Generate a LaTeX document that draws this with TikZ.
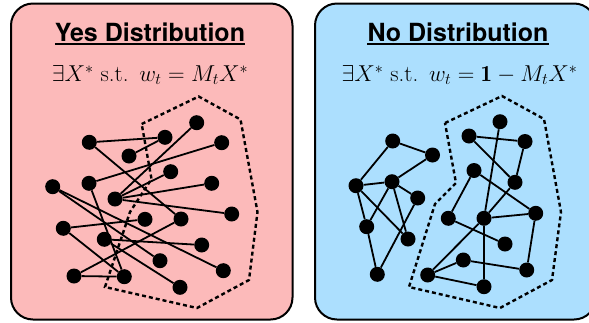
\RequirePackage{fix-cm}
\documentclass[tikz,border=0pt]{standalone}
\usepackage{fontspec}
\newfontfamily\titlefont{TeX Gyre Heros}
\definecolor{pinkc}{RGB}{252,186,186}
\definecolor{bluec}{RGB}{172,223,254}
\begin{document}
\begin{tikzpicture}[x=1pt,y=-1pt,
  panel/.style={draw=black,line width=2pt,rounded corners=22pt},
  dot/.style={circle,fill=black,inner sep=0pt,minimum size=15pt},
  edge/.style={line width=1.8pt},
  region/.style={line width=2.4pt,dash pattern=on 4pt off 3pt},
  ttl/.style={inner sep=0pt,anchor=base,font=\titlefont\bfseries\fontsize{25}{29}\selectfont},
  frm/.style={inner sep=0pt,anchor=base,font=\fontsize{23}{27}\selectfont}]
\clip (0,0) rectangle (589,322);
\fill[white] (0,0) rectangle (589,322);
% panels
\draw[panel,fill=pinkc] (11,3.5) rectangle (292.5,319.5);
\draw[panel,fill=bluec] (315,3.5) rectangle (596,319.5);
% titles
\node[ttl] (ytitle) at (150,41.5) {Yes Distribution};
\draw[line width=1.8pt] ([yshift=-2.5pt]ytitle.base west) -- ([yshift=-2.5pt]ytitle.base east);
\node[ttl] (ntitle) at (458,41.5) {No Distribution};
\draw[line width=1.8pt] ([yshift=-2.5pt]ntitle.base west) -- ([yshift=-2.5pt]ntitle.base east);
\node[frm] (yform) at (150,81.5) {$\exists X^*$ s.t.\ \,$w_t = M_tX^*$};
\node[frm] (nform) at (459.5,81.5) {$\exists X^*$ s.t.\ \,$w_t = \mathbf{1} - M_tX^*$};
% dashed regions
\draw[region] (141.7,124) -- (198.7,96.5) -- (240.5,119.5) -- (257.5,212) -- (249,280) -- (197,308) -- (105,287) -- (130,212) -- (151.5,179) -- cycle;
\draw[region] (445,123) -- (502,96) -- (544,119) -- (561,212) -- (552,280) -- (500,308) -- (409,287) -- (435,204) -- (456,183) -- cycle;
% left nodes
\foreach \n/\x/\y in {A/89.3/142.3, B/165/137.3, C/129/156, D/196.7/122.7, E/221.7/142.7,
  F/170.7/171.7, G/89/183.3, H/52.7/186.7, I/115/199, J/211.7/183.3, K/231.7/214,
  L/145/219.3, M/181/219, N/63.3/228.3, O/104.3/239.3, P/201.7/245, Q/160/260.7,
  R/223.3/270.7, S/74/276, T/124.3/276.7, U/180/287.3}
  \node[dot] (L\n) at (\x,\y) {};
\foreach \u/\v in {A/B, C/B, A/M, D/I, E/G, F/I, J/I, K/I, G/T, H/Q, H/R, N/L, N/T, O/P, O/U, S/M, S/T}
  \draw[edge] (L\u) -- (L\v);
% right nodes
\foreach \n/\x/\y in {a/392.7/141, b/432.5/155, c/356/185.7, d/392/181.7, e/417.7/198,
  f/366.7/226.7, g/408/239, h/377.3/274.3, i/500/121.7, j/469/136, k/525/141.5,
  l/474/170.5, m/515/182.3, n/535.7/213.3, o/448.3/218.3, p/484/218.3, q/505/244,
  r/463.3/260, s/526.7/270, t/427.7/275, u/484/286.7}
  \node[dot] (R\n) at (\x,\y) {};
\foreach \u/\v in {a/b, a/c, c/d, d/b, c/f, c/g, d/f, d/g, d/e, e/h, f/h,
  j/k, j/m, k/m, i/p, l/o, l/n, m/p, p/n, o/q, p/t, n/s, r/s, t/r, t/u, p/u}
  \draw[edge] (R\u) -- (R\v);
\end{tikzpicture}
\end{document}
